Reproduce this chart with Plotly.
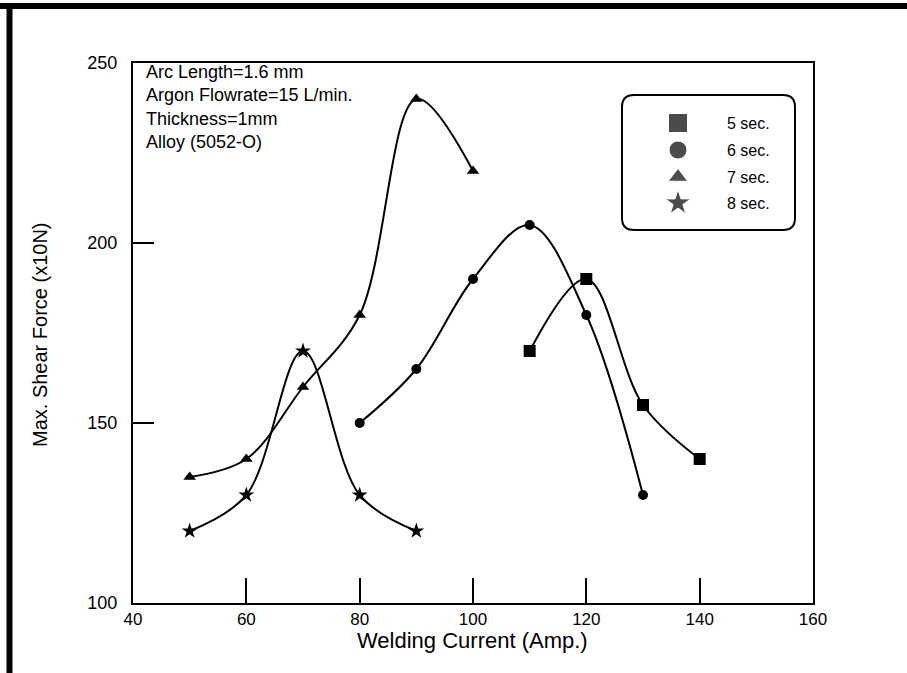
import plotly.graph_objects as go

# ---------------- data ----------------
current_5s = [110, 120, 130, 140]
force_5s = [170, 190, 155, 140]

current_6s = [80, 90, 100, 110, 120, 130]
force_6s = [150, 165, 190, 205, 180, 130]

current_7s = [50, 60, 70, 80, 90, 100]
force_7s = [135, 140, 160, 180, 240, 220]

current_8s = [50, 60, 70, 80, 90]
force_8s = [120, 130, 170, 130, 120]

series_names = ["5 sec.", "6 sec.", "7 sec.", "8 sec."]
x_ticks = [40, 60, 80, 100, 120, 140, 160]
y_ticks = [100, 150, 200, 250]
info_lines = ["Arc Length=1.6 mm", "Argon Flowrate=15 L/min.", "Thickness=1mm", "Alloy (5052-O)"]

# ---------------- styling ----------------
FONT = "Liberation Sans, Arial, Helvetica, sans-serif"
symbols = ["square", "circle", "triangle-up", "star"]
data_sizes = [12, 10, 11, 12]
legend_sizes = [19, 18, 17, 19]

# plot area in pixels
W, H = 907, 673
L, R, T, B = 133, 813, 63, 603
PW, PH = R - L, B - T


def px(xp):
    return (xp - L) / PW


def py(yp):
    return (B - yp) / PH


fig = go.Figure()
all_series = [(current_5s, force_5s), (current_6s, force_6s),
              (current_7s, force_7s), (current_8s, force_8s)]
for (xs, ys), name, sym, sz in zip(all_series, series_names, symbols, data_sizes):
    fig.add_trace(go.Scatter(
        x=xs, y=ys, name=name, mode="lines+markers",
        line=dict(color="black", width=2, shape="spline", smoothing=1.0),
        marker=dict(symbol=sym, size=sz, color="black"),
        showlegend=False,
    ))

# legend symbols on an overlay axis (0..1 range)
leg_x = px(678)
leg_rows = [123, 150, 177, 203]
fig.add_trace(go.Scatter(
    x=[leg_x] * 4, y=[py(r) for r in leg_rows], mode="markers",
    marker=dict(symbol=symbols, size=legend_sizes, color="black"),
    xaxis="x2", yaxis="y2", showlegend=False, hoverinfo="skip",
))

annotations = []
for i, name in enumerate(series_names):
    annotations.append(dict(
        x=px(725), y=py(leg_rows[i]), xref="paper", yref="paper",
        text=name, showarrow=False, xanchor="left", yanchor="middle",
        font=dict(family=FONT, size=16, color="black"),
    ))

# info text block (single multi-line annotation)
annotations.append(dict(
    x=px(144), y=py(107), xref="paper", yref="paper",
    text="<br>".join(info_lines), showarrow=False, xanchor="left", yanchor="middle",
    align="left", font=dict(family=FONT, size=18, color="black"),
))

annotations.append(dict(
    x=px(472), y=py(640), xref="paper", yref="paper",
    text="Welding Current (Amp.)", showarrow=False, xanchor="center", yanchor="middle",
    font=dict(family=FONT, size=22, color="black"),
))
annotations.append(dict(
    x=px(40), y=py(334), xref="paper", yref="paper",
    text="Max. Shear Force (x10N)", showarrow=False, textangle=-90,
    xanchor="center", yanchor="middle",
    font=dict(family=FONT, size=20, color="black"),
))

# rounded legend box
x0, x1 = px(622), px(795)
y0, y1 = py(230), py(95)
rx, ry = 12 / PW, 12 / PH
path = (f"M {x0+rx},{y1} L {x1-rx},{y1} Q {x1},{y1} {x1},{y1-ry} "
        f"L {x1},{y0+ry} Q {x1},{y0} {x1-rx},{y0} "
        f"L {x0+rx},{y0} Q {x0},{y0} {x0},{y0+ry} "
        f"L {x0},{y1-ry} Q {x0},{y1} {x0+rx},{y1} Z")

shapes = [
    dict(type="path", path=path, xref="paper", yref="paper",
         line=dict(color="black", width=2), fillcolor="rgba(0,0,0,0)"),
    # outer page frame (top and left thick bars)
    dict(type="rect", xref="paper", yref="paper",
         x0=px(0), x1=px(W), y0=py(9), y1=py(3),
         line=dict(width=0), fillcolor="black"),
    dict(type="rect", xref="paper", yref="paper",
         x0=px(6.5), x1=px(12.5), y0=py(H + 2), y1=py(3),
         line=dict(width=0), fillcolor="black"),
]

axis_common = dict(
    showgrid=False, zeroline=False, showline=True, mirror=True,
    linecolor="black", linewidth=2, ticks="inside", tickcolor="black",
    tickwidth=2,
)

fig.update_layout(
    width=W, height=H,
    margin=dict(l=L, r=W - R, t=T, b=H - B),
    paper_bgcolor="white", plot_bgcolor="white",
    showlegend=False,
    xaxis=dict(range=[40, 160], tickvals=x_ticks, ticklen=25,
               tickfont=dict(family=FONT, size=17, color="black"), **axis_common),
    yaxis=dict(range=[100, 250], tickvals=y_ticks, ticklen=21,
               ticklabelstandoff=10,
               tickfont=dict(family=FONT, size=18, color="black"), **axis_common),
    xaxis2=dict(overlaying="x", range=[0, 1], visible=False),
    yaxis2=dict(overlaying="y", range=[0, 1], visible=False),
    annotations=annotations,
    shapes=shapes,
)

fig.write_html("out.html", config={"displayModeBar": False},
               post_script="document.body.style.margin='0';document.body.style.overflow='hidden';")
